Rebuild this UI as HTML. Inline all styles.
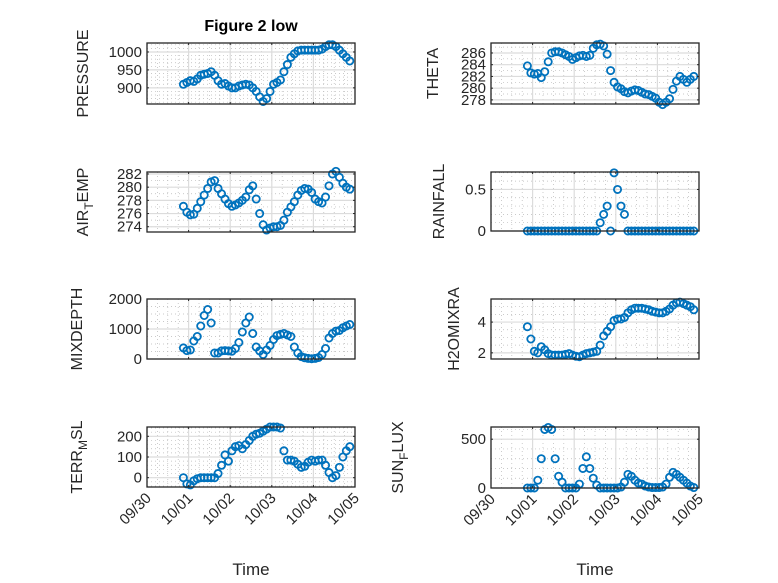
<!DOCTYPE html>
<html><head><meta charset="utf-8"><style>
html,body{margin:0;padding:0;background:#fff;}
svg{display:block;font-family:"Liberation Sans","DejaVu Sans",sans-serif;}
</style></head><body>
<svg id="fig" width="778" height="583" viewBox="0 0 778 583" xmlns="http://www.w3.org/2000/svg">
<rect width="778" height="583" fill="#fff"/>
<text x="251" y="31" text-anchor="middle" font-size="16" font-weight="bold" fill="#000">Figure 2 low</text>
</svg>
<script>
// time in days after 09/30 00:00 (2-hour samples)
const nSamples = 49;
const tStart = 0.875;
const tStep = 1/12;
const xTickLabels = ["09/30","10/01","10/02","10/03","10/04","10/05"];
const xTickDays = [0,1,2,3,4,5];

const pressure = [910,915,920,918,925,935,938,940,945,935,920,910,912,905,900,900,905,908,910,908,900,890,875,862,870,890,910,915,922,945,965,985,995,1003,1005,1005,1005,1005,1005,1005,1008,1015,1020,1020,1015,1005,995,985,975];
const theta = [283.8,282.6,282.4,282.5,281.8,282.8,284.5,286.0,286.2,286.2,286.0,285.7,285.4,284.9,285.2,285.5,285.6,285.4,285.6,286.8,287.4,287.5,287.2,285.8,283.0,281.0,280.2,279.9,279.4,279.2,279.5,279.7,279.6,279.3,279.0,278.9,278.6,278.3,277.6,277.2,277.6,278.2,279.8,281.2,282.0,281.5,281.0,281.5,282.0];
const airTemp = [277.1,276.2,275.8,275.9,276.8,277.8,278.8,279.8,280.8,281.0,279.8,279.0,278.2,277.5,277.1,277.3,277.6,278.0,278.5,279.6,280.2,278.2,276.0,274.3,273.5,273.8,274.0,274.0,274.2,275.0,276.2,277.0,277.8,278.8,279.5,279.8,279.7,279.2,278.2,277.8,277.6,278.5,280.2,282.0,282.4,281.5,280.6,280.0,279.7];
const rainfall = [0,0,0,0,0,0,0,0,0,0,0,0,0,0,0,0,0,0,0,0,0,0.1,0.2,0.3,0,0.7,0.5,0.3,0.2,0,0,0,0,0,0,0,0,0,0,0,0,0,0,0,0,0,0,0,0];
const mixDepth = [370,280,300,600,750,1100,1450,1650,1200,200,200,270,280,270,260,350,550,900,1200,1400,850,400,270,150,300,450,650,780,820,850,800,750,400,200,80,40,20,10,20,50,150,350,700,850,930,950,1040,1100,1150];
const h2oMix = [3.7,2.9,2.1,2.0,2.4,2.2,1.95,1.85,1.85,1.85,1.85,1.9,1.95,1.85,1.78,1.75,1.85,1.95,2.0,2.05,2.1,2.5,3.1,3.4,3.7,4.1,4.2,4.2,4.3,4.6,4.8,4.9,4.9,4.9,4.85,4.8,4.7,4.65,4.6,4.6,4.7,4.85,5.1,5.25,5.3,5.2,5.1,5.0,4.8];
const terrMsl = [0,-30,-35,-15,-5,0,0,0,0,0,20,60,110,80,130,150,155,140,160,180,200,210,215,225,235,245,245,245,240,130,85,85,80,65,50,55,75,85,80,85,85,60,25,0,10,50,100,130,150];
const sunFlux = [0,0,0,80,300,600,620,600,300,120,60,0,0,0,0,40,200,320,200,100,30,0,0,0,0,0,0,10,60,140,120,80,50,40,20,10,5,5,5,10,40,110,160,140,110,80,50,20,5];

const pressureTicks = [900,950,1000];
const thetaTicks = [278,280,282,284,286];
const airTicks = [274,276,278,280,282];
const rainTicks = [0,0.5];
const mixTicks = [0,1000,2000];
const h2oTicks = [2,4];
const terrTicks = [0,100,200];
const sunTicks = [0,500];

const NS="http://www.w3.org/2000/svg";
const svg=document.getElementById('fig');
function mk(tag,attrs,parent){const e=document.createElementNS(NS,tag);for(const k in attrs)e.setAttribute(k,attrs[k]);(parent||svg).appendChild(e);return e;}

const panels=[
 {key:'pressure',data:pressure,ticks:pressureTicks,minor:10,ymin:855,ymax:1025,x0:147,y0:43,x1:355,y1:104,lab:['PRESSURE'],lx:82,xl:false},
 {key:'theta',data:theta,ticks:thetaTicks,minor:1,ymin:277.3,ymax:287.7,x0:491,y0:43,x1:699,y1:104,lab:['THETA'],lx:432,xl:false},
 {key:'air-temp',data:airTemp,ticks:airTicks,minor:1,ymin:273.2,ymax:282.3,x0:147,y0:172,x1:355,y1:232,lab:['AIR','T','EMP'],lx:82,xl:false},
 {key:'rainfall',data:rainfall,ticks:rainTicks,minor:0.1,ymin:0,ymax:0.71,x0:491,y0:172,x1:699,y1:231,lab:['RAINFALL'],lx:438,xl:false},
 {key:'mixdepth',data:mixDepth,ticks:mixTicks,minor:250,ymin:0,ymax:2000,x0:147,y0:299,x1:355,y1:359,lab:['MIXDEPTH'],lx:76,xl:false},
 {key:'h2omixra',data:h2oMix,ticks:h2oTicks,minor:0.5,ymin:1.6,ymax:5.5,x0:491,y0:299,x1:699,y1:359,lab:['H2OMIXRA'],lx:453,xl:false},
 {key:'terr-msl',data:terrMsl,ticks:terrTicks,minor:20,ymin:-45,ymax:245,x0:147,y0:427,x1:355,y1:487,lab:['TERR','M','SL'],lx:76,xl:true},
 {key:'sun-flux',data:sunFlux,ticks:sunTicks,minor:100,ymin:0,ymax:625,x0:491,y0:427,x1:699,y1:488,lab:['SUN','F','LUX'],lx:397,xl:true}
];

panels.forEach(p=>{
 const g=mk('g',{});
 
 
 const xs=d=>p.x0+(d-0)/5*(p.x1-p.x0);
 const ys=v=>p.y1-(v-p.ymin)/(p.ymax-p.ymin)*(p.y1-p.y0);
 mk('rect',{x:p.x0,y:p.y0,width:p.x1-p.x0,height:p.y1-p.y0,fill:'#fff'},g);
 for(let d=0.25;d<5;d+=0.25){ if(Math.abs(d-Math.round(d))<1e-6)continue;
  mk('line',{x1:xs(d),x2:xs(d),y1:p.y0,y2:p.y1,stroke:'#b8b8b8','stroke-width':0.7,'stroke-dasharray':'1 3'},g);}
 const m0=Math.ceil(p.ymin/p.minor);
 for(let k=m0;k*p.minor<p.ymax;k++){const v=k*p.minor;
  mk('line',{x1:p.x0,x2:p.x1,y1:ys(v),y2:ys(v),stroke:'#b8b8b8','stroke-width':0.7,'stroke-dasharray':'1 3'},g);}
 xTickDays.forEach(d=>mk('line',{x1:xs(d),x2:xs(d),y1:p.y0,y2:p.y1,stroke:'#dcdcdc','stroke-width':1.2},g));
 p.ticks.forEach(v=>mk('line',{x1:p.x0,x2:p.x1,y1:ys(v),y2:ys(v),stroke:'#dcdcdc','stroke-width':1.2},g));
 p.data.forEach((v,i)=>{
  const c=mk('circle',{cx:xs(tStart+i*tStep),cy:ys(v),r:3.6,fill:'none',stroke:'#0072BD','stroke-width':1.8},g);
  
  
 });
 mk('rect',{x:p.x0,y:p.y0,width:p.x1-p.x0,height:p.y1-p.y0,fill:'none',stroke:'#262626','stroke-width':1.3},g);
 xTickDays.forEach(d=>{mk('line',{x1:xs(d),x2:xs(d),y1:p.y1,y2:p.y1-2,stroke:'#262626'},g);mk('line',{x1:xs(d),x2:xs(d),y1:p.y0,y2:p.y0+2,stroke:'#262626'},g);});
 p.ticks.forEach(v=>{
  mk('line',{x1:p.x0,x2:p.x0+2,y1:ys(v),y2:ys(v),stroke:'#262626'},g);
  mk('line',{x1:p.x1,x2:p.x1-2,y1:ys(v),y2:ys(v),stroke:'#262626'},g);
  const t=mk('text',{x:p.x0-5,y:ys(v)+5,'text-anchor':'end','font-size':15,fill:'#262626'},g);
  t.textContent=String(v);
  
  
 });
 const cy=(p.y0+p.y1)/2;
 const yl=mk('text',{x:0,y:0,transform:`translate(${p.lx+6},${cy}) rotate(-90)`,'text-anchor':'middle','font-size':16,fill:'#262626'},g);
 
 
 if(p.lab.length===1){yl.textContent=p.lab[0];}
 else{
  const a=mk('tspan',{},yl);a.textContent=p.lab[0];
  const b=mk('tspan',{dy:5,'font-size':12},yl);b.textContent=p.lab[1];
  const c=mk('tspan',{dy:-5},yl);c.textContent=p.lab[2];
 }
 if(p.xl){
  xTickDays.forEach((d,i)=>{
   const t=mk('text',{x:0,y:0,transform:`translate(${xs(d)+5},${p.y1+12}) rotate(-45)`,'text-anchor':'end','font-size':15,fill:'#262626'},g);
   t.textContent=xTickLabels[i];
   
   
  });
  const xt=mk('text',{x:(p.x0+p.x1)/2,y:575,'text-anchor':'middle','font-size':17,fill:'#262626'},g);
  xt.textContent='Time';
  
  
 }
});
</script>
</body></html>
